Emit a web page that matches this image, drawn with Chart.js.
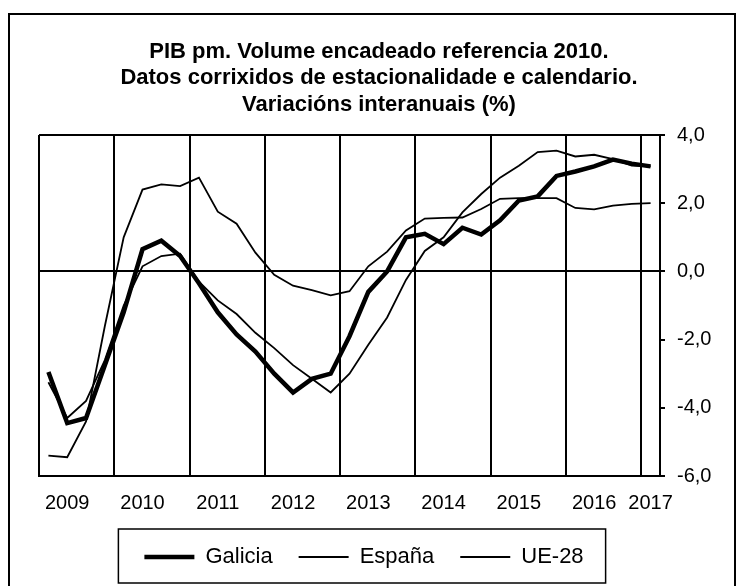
<!DOCTYPE html>
<html lang="gl">
<head>
<meta charset="utf-8">
<title>PIB pm – Variacións interanuais</title>
<script src="https://cdn.jsdelivr.net/npm/chart.js@4.4.1/dist/chart.umd.min.js"></script>
<style>
  html, body { margin: 0; padding: 0; background: #fff; overflow: hidden; }
  .chart-wrap  { position: relative; width: 745px; height: 586px; overflow: hidden; }
  .chart-frame {
    position: absolute; left: 8px; top: 13px; width: 728px; height: 600px;
    border: 2px solid #000; box-sizing: border-box; pointer-events: none;
  }
</style>
</head>
<body>
<div class="chart-wrap">
  <canvas id="gdpChart"></canvas>
  <div class="chart-frame"></div>
</div>

<script>
/* ── Data ───────────────────────────────────────────────── */

const years    = ['2009','2010','2011','2012','2013','2014','2015','2016','2017'];
const quarters = years.flatMap(y => ['T1','T2','T3','T4'].map(q => y + q)).slice(0, 33);

const galicia = [-2.95, -4.45, -4.30, -2.75, -1.20,  0.65,  0.90,  0.45, -0.35, -1.20, -1.85,
                 -2.35, -3.00, -3.55, -3.15, -3.00, -1.90, -0.60,  0.00,  1.00,  1.10,  0.80,
                  1.28,  1.08,  1.50,  2.08,  2.20,  2.80,  2.93,  3.08,  3.28,  3.16,  3.08];

const espana  = [-3.25, -4.30, -3.80, -2.60, -1.00,  0.15,  0.45,  0.52, -0.30, -0.85, -1.25,
                 -1.80, -2.25, -2.75, -3.15, -3.55, -3.00, -2.15, -1.35, -0.25,  0.60,  1.00,
                  1.73,  2.27,  2.75,  3.10,  3.50,  3.54,  3.37,  3.42,  3.29,  3.10,  3.08];

const ue28    = [-5.40, -5.45, -4.40, -1.60,  1.00,  2.40,  2.55,  2.50,  2.75,  1.75,  1.40,
                  0.55, -0.10, -0.42, -0.55, -0.70, -0.58,  0.15,  0.58,  1.20,  1.55,  1.57,
                  1.58,  1.83,  2.13,  2.15,  2.15,  2.15,  1.86,  1.82,  1.93,  1.98,  2.00];

const yTicks = { min: -6, max: 4, step: 2 };

const titleLines = [
  'PIB pm. Volume encadeado referencia 2010.',
  'Datos corrixidos de estacionalidade e calendario.',
  'Variacións interanuais (%)'
];


/* ── Config ─────────────────────────────────────────────── */

const FONT = "'Liberation Sans', Arial, sans-serif";
const LEGEND_SHIFT = -15;   // legend sits a bit left of the title centre

Chart.defaults.font.family = FONT;
Chart.defaults.color = '#000';


/* ── Helpers ────────────────────────────────────────────── */

// year label sits on the 2nd quarter, last year on its only quarter
function xTickLabel(i) {
  const q = quarters[i];
  if (i === quarters.length - 1 || q.endsWith('T2')) return q.slice(0, 4);
  return '';
}

function fmtComma(v) {
  return v.toFixed(1).replace('.', ',');
}


/* ── Legend frame plugin ────────────────────────────────── */

const legendFrame = {
  id: 'legendFrame',
  afterLayout(chart) {
    const lg = chart.legend;
    lg.left  += LEGEND_SHIFT;
    lg.right += LEGEND_SHIFT;
  },
  afterDraw(chart) {
    const boxes = chart.legend && chart.legend.legendHitBoxes;
    if (!boxes || !boxes.length) return;
    const first = boxes[0];
    const last  = boxes[boxes.length - 1];
    const midY  = first.top + first.height / 2;
    const ctx   = chart.ctx;
    ctx.save();
    ctx.strokeStyle = '#000';
    ctx.lineWidth = 1.5;
    ctx.strokeRect(first.left - 26, midY - 28, last.left + last.width - first.left + 48, 54);
    ctx.restore();
  }
};


/* ── Chart ──────────────────────────────────────────────── */

function lineSet(label, data, width) {
  return {
    label, data,
    borderColor: '#000',
    backgroundColor: '#000',
    borderWidth: width,
    pointRadius: 0, pointHoverRadius: 0,
    pointStyle: 'line',
    tension: 0,
    fill: false
  };
}

new Chart(document.getElementById('gdpChart'), {
  type: 'line',
  data: {
    labels: quarters,
    datasets: [
      lineSet('Galicia', galicia, 4.5),
      lineSet('España',  espana,  1.8),
      lineSet('UE-28',   ue28,    1.8)
    ]
  },
  options: {
    responsive: true,
    maintainAspectRatio: false,
    animation: false,
    layout: { padding: { top: 30, right: 26, bottom: 8, left: 39 } },
    plugins: {
      title: {
        display: true,
        text: titleLines,
        color: '#000',
        font: { size: 22, weight: 'bold', lineHeight: 1.2 },
        padding: { top: 8.5, bottom: 17.3 }
      },
      legend: {
        display: true,
        position: 'bottom',
        labels: {
          usePointStyle: true,
          pointStyle: 'line',
          pointStyleWidth: 50,
          padding: 26,
          color: '#000',
          font: { size: 22 }
        }
      },
      tooltip: { enabled: false }
    },
    scales: {
      x: {
        offset: true,
        grid: {
          offset: true,
          drawTicks: false,
          lineWidth: 2,
          color: c => (c.index % 4 === 0) ? '#000' : 'transparent'
        },
        border: { display: true, color: '#000', width: 2 },
        ticks: {
          autoSkip: false, maxRotation: 0, minRotation: 0,
          padding: 15,
          font: { size: 20 },
          callback: (v, i) => xTickLabel(i)
        },
        afterFit: s => { s.height = 44; }
      },
      y: {
        position: 'right',
        min: yTicks.min, max: yTicks.max,
        grid: {
          lineWidth: 2,
          tickLength: 5,
          tickColor: '#000',
          color: c => (c.tick && (c.tick.value === 0 || c.tick.value === yTicks.max)) ? '#000' : 'transparent'
        },
        border: { display: true, color: '#000', width: 2 },
        ticks: {
          stepSize: yTicks.step,
          padding: 12,
          font: { size: 20 },
          callback: v => fmtComma(v)
        },
        afterFit: s => { s.width = 59; }
      }
    }
  },
  plugins: [legendFrame]
});
</script>
</body>
</html>
